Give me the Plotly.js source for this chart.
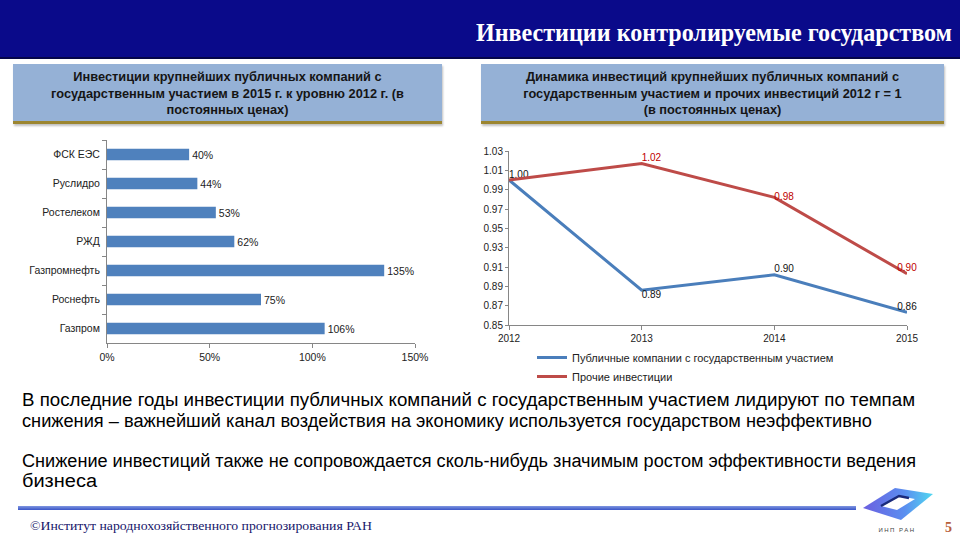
<!DOCTYPE html>
<html><head><meta charset="utf-8">
<script src="https://cdn.plot.ly/plotly-3.0.1.min.js"></script>
<style>
body{margin:0;width:960px;height:540px;position:relative;overflow:hidden;background:#fff;font-family:"Liberation Sans",Arial,sans-serif;}
.abs{position:absolute;white-space:nowrap;}
.box{position:absolute;background:#95b1d6;border-bottom:3px solid #9c8630;box-shadow:1px 2px 2px rgba(0,0,0,0.25);text-align:center;font-weight:bold;font-size:12.8px;color:#151515;line-height:16.7px;box-sizing:border-box;padding-top:5px;font-family:"Liberation Sans",Arial,sans-serif;}
.para{position:absolute;white-space:nowrap;font-family:"Liberation Sans",Arial,sans-serif;font-size:18px;line-height:20px;color:#000;transform-origin:0 50%;z-index:3;}
</style></head>
<body>
<div class="abs" style="left:0;top:0;width:960px;height:57px;background:#0a0a8a;border-bottom:2px solid #05054a;"></div>
<div id="htitle" class="abs" style="left:476px;top:19px;font-family:'Liberation Serif','DejaVu Serif',serif;font-weight:bold;font-size:25px;line-height:28px;color:#fff;transform-origin:0 50%;">Инвестиции контролируемые государством</div>

<div class="box" style="left:13px;top:64px;width:429px;height:60px;">Инвестиции крупнейших публичных компаний с<br>государственным участием в 2015 г. к уровню 2012 г. (в<br>постоянных ценах)</div>
<div class="box" style="left:481px;top:64px;width:463px;height:60px;">Динамика инвестиций крупнейших публичных компаний с<br>государственным участием и прочих инвестиций 2012 г = 1<br>(в постоянных ценах)</div>

<div id="chart" style="position:absolute;left:0;top:0;width:960px;height:540px;z-index:2;"></div>

<div class="para" data-w="893" style="left:22px;top:390px;">В последние годы инвестиции публичных компаний с государственным участием лидируют по темпам</div>
<div class="para" data-w="850" style="left:22px;top:411px;">снижения – важнейший канал воздействия на экономику используется государством неэффективно</div>
<div class="para" data-w="894" style="left:22px;top:451px;">Снижение инвестиций также не сопровождается сколь-нибудь значимым ростом эффективности ведения</div>
<div class="para" data-w="75" style="left:22px;top:471px;">бизнеса</div>

<div class="abs" style="left:18px;top:506px;width:838px;height:4px;background:linear-gradient(to bottom,#7f96e0,#3a55c8);"></div>
<div id="foot" class="abs" style="left:30px;top:518px;font-family:'Liberation Serif','DejaVu Serif',serif;font-size:12px;line-height:16px;color:#15156a;transform-origin:0 50%;">©Институт народнохозяйственного прогнозирования РАН</div>

<svg class="abs" style="left:855px;top:484px;" width="90" height="56" viewBox="0 0 90 56">
  <defs><linearGradient id="lg" x1="0" y1="0" x2="1" y2="0"><stop offset="0" stop-color="#6b5fe0"/><stop offset="0.6" stop-color="#5a8ff0"/><stop offset="1" stop-color="#50d8f0"/></linearGradient></defs>
  <polygon points="8,24 40,4 78,10 46,36" fill="url(#lg)"/>
  <polygon points="26,22 44,12 60,15 42,26" fill="#fff"/>
  <polyline points="26,22 44,12 54,14" fill="none" stroke="#1a2a7a" stroke-width="2.5"/>
  <text x="42" y="48" text-anchor="middle" font-family="Liberation Sans" font-size="6" fill="#444" letter-spacing="1.5">ИНП РАН</text>
</svg>
<div class="abs" style="left:945px;top:519px;font-family:'Liberation Serif',serif;font-weight:bold;font-size:14px;line-height:18px;color:#b8603a;">5</div>

<script>
// ---- Data ----
const companies = ['ФСК ЕЭС','Руслидро','Ростелеком','РЖД','Газпромнефть','Роснефть','Газпром'];
const growth2015vs2012 = [40, 44, 53, 62, 135, 75, 106];
const years = ['2012','2013','2014','2015'];
const stateCompanies = [1.00, 0.886, 0.902, 0.863];
const otherInvestment = [1.00, 1.017, 0.982, 0.903];
const seriesNames = ['Публичные компании с государственным участием','Прочие инвестиции'];

const font = 'Liberation Sans, Arial, sans-serif';
const axisCol = '#868686';
const W = 960, H = 540;

const traces = [
  {
    type:'bar', orientation:'h', x: growth2015vs2012, y: companies,
    xaxis:'x', yaxis:'y', width:0.4,
    marker:{color:'#4f81bd'},
    text: growth2015vs2012.map(v => v + '%'), textposition:'outside',
    textfont:{family:font,size:10.5,color:'#222'}, cliponaxis:false, constraintext:'none',
    showlegend:false, hoverinfo:'skip'
  },
  {
    type:'scatter', mode:'lines+text', x: years, y: stateCompanies,
    xaxis:'x2', yaxis:'y2', name: seriesNames[0],
    line:{color:'#4a7ebb', width:3},
    text: stateCompanies.map(v => v.toFixed(2)),
    textposition:['top right','bottom right','top right','top center'],
    textfont:{family:font,size:10,color:'#111'}, cliponaxis:false
  },
  {
    type:'scatter', mode:'lines+text', x: years, y: otherInvestment,
    xaxis:'x2', yaxis:'y2', name: seriesNames[1],
    line:{color:'#be4b48', width:3},
    text: otherInvestment.map((v,i) => i === 0 ? '' : v.toFixed(2)),
    textposition:['top right','top right','middle right','top center'],
    textfont:{family:font,size:10,color:'#c00000'}, cliponaxis:false
  }
];

const layout = {
  width:W, height:H, margin:{l:0,r:0,t:0,b:0},
  paper_bgcolor:'rgba(0,0,0,0)', plot_bgcolor:'rgba(0,0,0,0)',
  font:{family:font,size:10,color:'#222'},
  xaxis:{domain:[107/W,415/W], anchor:'y', range:[0,150], dtick:50, tick0:0, ticksuffix:'%',
    showline:true, linecolor:axisCol, ticks:'outside', ticklen:4, tickcolor:axisCol,
    showgrid:false, zeroline:false, tickfont:{size:10.5,color:'#222'}},
  yaxis:{domain:[1-343/H,1-140/H], anchor:'x', autorange:'reversed', type:'category',
    showline:true, linecolor:axisCol, ticks:'outside', ticklen:4, tickcolor:axisCol,
    tickson:'boundaries', showgrid:false, zeroline:false, tickfont:{size:10.5,color:'#222'}, ticklabelstandoff:4},
  xaxis2:{domain:[509/W,907/W], anchor:'y2', type:'category', range:[0,3],
    showline:true, linecolor:axisCol, ticks:'outside', ticklen:4, tickcolor:axisCol,
    showgrid:false, zeroline:false, tickfont:{size:10,color:'#222'}},
  yaxis2:{domain:[1-325/H,1-151/H], anchor:'x2', range:[0.85,1.03], dtick:0.02, tick0:0.85, tickformat:'.2f',
    showline:true, linecolor:axisCol, ticks:'outside', ticklen:3, tickcolor:axisCol,
    showgrid:false, zeroline:false, tickfont:{size:10,color:'#222'}},
  legend:{x:532/W, y:1-343/H, xanchor:'left', yanchor:'top', orientation:'v', itemwidth:30,
    font:{family:font,size:11,color:'#222'}, bgcolor:'rgba(0,0,0,0)', tracegroupgap:0},
  showlegend:true
};

Plotly.newPlot('chart', traces, layout, {staticPlot:true, displayModeBar:false});

function fit(el, w){
  el.style.transform = 'none';
  const cur = el.getBoundingClientRect().width;
  if (cur > 0) el.style.transform = 'scaleX(' + (w/cur) + ')';
}
function fitAll(){
  document.querySelectorAll('.para').forEach(el => fit(el, +el.dataset.w));
  fit(document.getElementById('htitle'), 476);
  fit(document.getElementById('foot'), 342);
}
fitAll();
if (document.fonts && document.fonts.ready) document.fonts.ready.then(fitAll);
</script>
</body></html>
